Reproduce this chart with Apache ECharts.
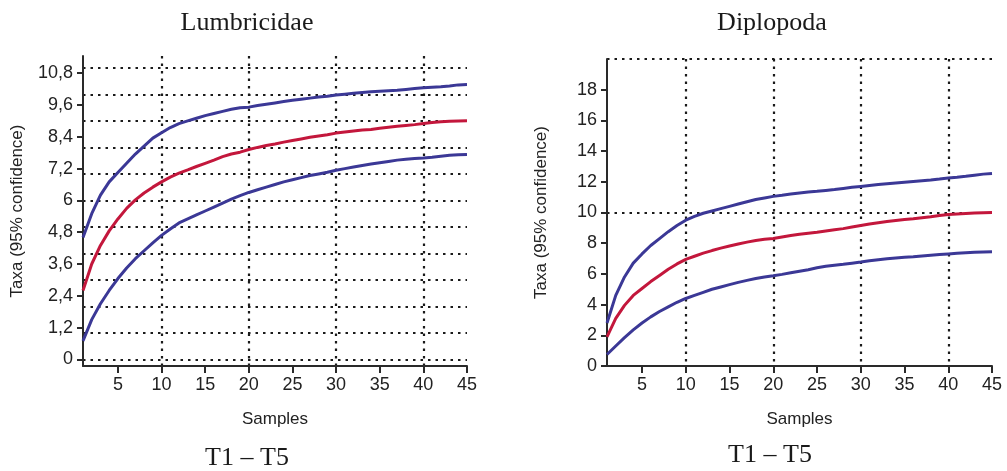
<!DOCTYPE html>
<html>
<head>
<meta charset="utf-8">
<script src="https://cdn.jsdelivr.net/npm/echarts@6/dist/echarts.min.js"></script>
<style>
html,body{margin:0;padding:0;background:#fff;}
#chart{width:1007px;height:471px;}
</style>
</head>
<body>
<div id="chart"></div>
<script>
// ---- data ----
const samples = [1,2,3,4,5,6,7,8,9,10,11,12,13,14,15,16,17,18,19,20,21,22,23,24,25,26,27,28,29,30,31,32,33,34,35,36,37,38,39,40,41,42,43,44,45];

const lumbUpper = [4.6,5.5,6.2,6.7,7.05,7.4,7.75,8.05,8.35,8.55,8.75,8.9,9.0,9.1,9.2,9.28,9.36,9.44,9.5,9.52,9.58,9.63,9.68,9.73,9.78,9.82,9.86,9.9,9.93,9.98,10.01,10.04,10.07,10.1,10.12,10.14,10.16,10.19,10.22,10.25,10.27,10.29,10.32,10.36,10.37];
const lumbMean  = [2.6,3.6,4.3,4.85,5.3,5.7,6.02,6.28,6.5,6.7,6.88,7.03,7.15,7.28,7.4,7.52,7.65,7.75,7.82,7.92,8.0,8.07,8.13,8.2,8.26,8.32,8.38,8.43,8.48,8.54,8.58,8.62,8.66,8.68,8.72,8.76,8.8,8.83,8.86,8.9,8.94,8.97,8.99,9.0,9.01];
const lumbLower = [0.7,1.5,2.1,2.6,3.05,3.45,3.8,4.1,4.4,4.68,4.92,5.15,5.3,5.45,5.6,5.75,5.9,6.05,6.18,6.3,6.4,6.5,6.6,6.7,6.78,6.86,6.94,7.0,7.06,7.14,7.2,7.26,7.32,7.37,7.42,7.47,7.52,7.55,7.58,7.6,7.63,7.67,7.7,7.72,7.73];

const diplUpper = [2.8,4.6,5.8,6.7,7.3,7.85,8.3,8.75,9.15,9.5,9.75,9.95,10.1,10.25,10.4,10.55,10.7,10.85,10.95,11.05,11.12,11.2,11.27,11.33,11.38,11.44,11.5,11.57,11.64,11.7,11.76,11.82,11.87,11.92,11.97,12.02,12.07,12.12,12.18,12.25,12.3,12.36,12.43,12.5,12.54];
const diplMean  = [1.9,3.1,3.95,4.6,5.05,5.5,5.9,6.3,6.65,6.95,7.15,7.35,7.52,7.68,7.82,7.95,8.07,8.18,8.25,8.3,8.4,8.5,8.58,8.65,8.72,8.8,8.88,8.95,9.05,9.15,9.25,9.33,9.41,9.48,9.55,9.6,9.66,9.72,9.8,9.87,9.9,9.93,9.96,9.99,10.0];
const diplLower = [0.75,1.3,1.85,2.35,2.8,3.2,3.55,3.85,4.15,4.4,4.6,4.8,5.0,5.15,5.3,5.45,5.58,5.7,5.8,5.88,5.97,6.07,6.17,6.27,6.4,6.5,6.57,6.63,6.7,6.77,6.85,6.92,6.98,7.03,7.08,7.12,7.17,7.22,7.26,7.3,7.34,7.38,7.41,7.43,7.44];

// ---- ticks / labels ----
const xTicks = [5,10,15,20,25,30,35,40,45];
const xGridTicks = [10,20,30,40];
const lumbYTicks = [0,1.2,2.4,3.6,4.8,6,7.2,8.4,9.6,10.8];
const lumbYGrid = [0,1,2,3,4,5,6,7,8,9,10,11];
const diplYTicks = [0,2,4,6,8,10,12,14,16,18];
const diplYGrid = [10,20];

const titles = ['Lumbricidae','Diplopoda'];
const subtitle = 'T1 \u2013 T5';
const xName = 'Samples';
const yName = 'Taxa (95% confidence)';

// ---- styles ----
const BLUE = '#3b3896';
const RED = '#c3173c';
const AX = '#2a2a2a';
const FONT = 'Liberation Sans, Arial, sans-serif';
const SERIF = 'Liberation Serif, Times New Roman, serif';
const dotted = {color:'#1a1a1a', width:2.2, type:[2.5,5]};

function pairs(ys){ return samples.map((s,i)=>[s, ys[i]]); }

function mainX(gi){
  return {
    type:'value', gridIndex:gi, min:1, max:45,
    axisLine:{show:true, onZero:false, lineStyle:{color:AX, width:2}},
    axisTick:{show:true, customValues:xTicks, length:7, inside:false, lineStyle:{color:AX, width:2}},
    axisLabel:{customValues:xTicks, color:'#222', fontSize:18, fontFamily:FONT, margin:10},
    splitLine:{show:false},
    name:xName, nameLocation:'middle', nameGap:45,
    nameTextStyle:{color:'#222', fontSize:17, fontFamily:FONT}
  };
}
function gridX(gi){
  return {
    type:'value', gridIndex:gi, min:1, max:45,
    axisLine:{show:false}, axisLabel:{show:false},
    axisTick:{show:false, customValues:xGridTicks},
    splitLine:{show:true, lineStyle:dotted}
  };
}
function mainY(gi, min, max, ticks){
  return {
    type:'value', gridIndex:gi, min:min, max:max,
    axisLine:{show:true, onZero:false, lineStyle:{color:AX, width:2}},
    axisTick:{show:true, customValues:ticks, length:6, lineStyle:{color:AX, width:2}},
    axisLabel:{customValues:ticks, color:'#222', fontSize:18, fontFamily:FONT, margin:10,
      formatter:v=>String(v).replace('.', ',')},
    splitLine:{show:false},
    name:yName, nameLocation:'middle', nameGap:57, nameRotate:90,
    nameTextStyle:{color:'#222', fontSize:17, fontFamily:FONT}
  };
}
function gridY(gi, min, max, ticks){
  return {
    type:'value', gridIndex:gi, min:min, max:max,
    axisLine:{show:false}, axisLabel:{show:false},
    axisTick:{show:false, customValues:ticks},
    splitLine:{show:true, lineStyle:dotted}
  };
}
function line(name, xi, yi, ys, color){
  return {
    name:name, type:'line', xAxisIndex:xi, yAxisIndex:yi, data:pairs(ys),
    showSymbol:false, symbol:'none', smooth:false, z:5,
    lineStyle:{color:color, width:3}, itemStyle:{color:color}
  };
}

const titleStyle = {fontFamily:SERIF, fontWeight:'normal', fontSize:26, color:'#1a1a1a'};

const option = {
  animation:false,
  backgroundColor:'#fff',
  title:[
    {text:titles[0], left:242, top:5, textAlign:'center', textStyle:titleStyle},
    {text:titles[1], left:767, top:5, textAlign:'center', textStyle:titleStyle},
    {text:subtitle, left:242, top:440, textAlign:'center', textStyle:titleStyle},
    {text:subtitle, left:765, top:437, textAlign:'center', textStyle:titleStyle}
  ],
  grid:[
    {left:83, top:56, width:384, height:310},
    {left:607, top:59, width:385, height:307}
  ],
  xAxis:[ mainX(0), gridX(0), mainX(1), gridX(1) ],
  yAxis:[
    mainY(0, -0.25, 11.45, lumbYTicks), gridY(0, -0.25, 11.45, lumbYGrid),
    mainY(1, 0, 20, diplYTicks), gridY(1, 0, 20, diplYGrid)
  ],
  series:[
    line('Lumbricidae upper', 0, 0, lumbUpper, BLUE),
    line('Lumbricidae mean', 0, 0, lumbMean, RED),
    line('Lumbricidae lower', 0, 0, lumbLower, BLUE),
    line('Diplopoda upper', 2, 2, diplUpper, BLUE),
    line('Diplopoda mean', 2, 2, diplMean, RED),
    line('Diplopoda lower', 2, 2, diplLower, BLUE)
  ]
};

const chart = echarts.init(document.getElementById('chart'), null, {renderer:'canvas'});
chart.setOption(option);
</script>
</body>
</html>
